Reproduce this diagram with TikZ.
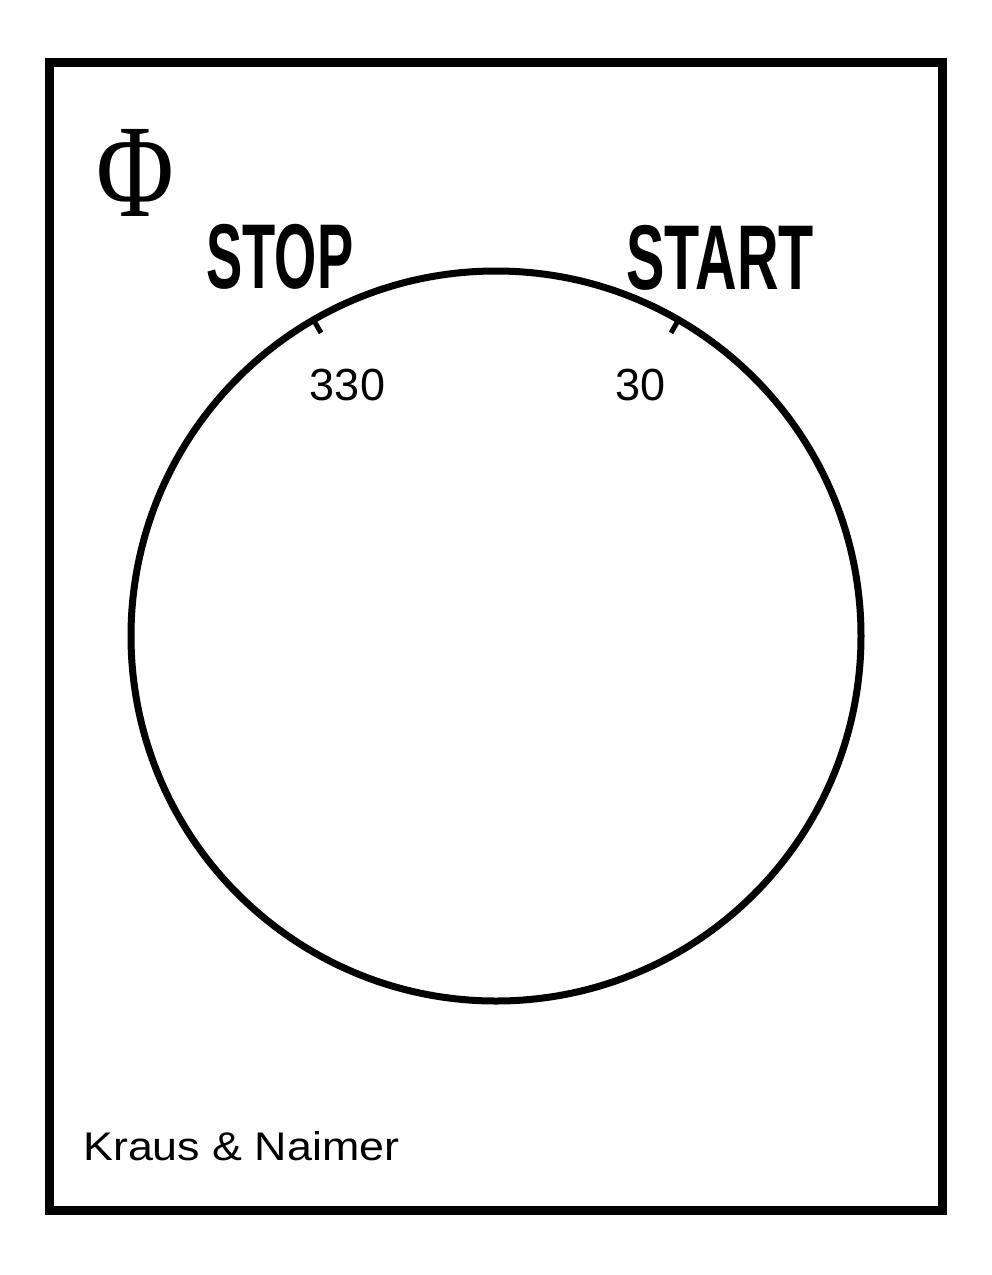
\documentclass[tikz,border=0pt]{standalone}
\usepackage{fontspec}
\setsansfont{Liberation Sans}
\newfontfamily\greekfont{Liberation Serif}
\usetikzlibrary{calc}

\begin{document}
\begin{tikzpicture}[x=1pt,y=-1pt,
    caption/.style={inner sep=0pt, anchor=base, xscale=0.59,
        font=\sffamily\bfseries\fontsize{92}{92}\selectfont},
    degree/.style={inner sep=0pt, anchor=base,
        font=\sffamily\fontsize{45}{45}\selectfont}]
    \useasboundingbox (0,0) rectangle (992,1275);

    % plate
    \draw[line width=9pt] (49.5,62.5) rectangle (942.5,1210.5);

    % dial
    \coordinate (c) at (496,636);
    \draw[line width=7pt] (c) circle (365pt);
    \draw[line width=5pt] ($(c)+(60:365pt)$) -- ($(c)+(60:350pt)$);
    \draw[line width=5pt] ($(c)+(120:365pt)$) -- ($(c)+(120:350pt)$);

    \node[inner sep=0pt, anchor=base, xscale=0.8,
        font=\greekfont\fontsize{133}{133}\selectfont] (phi) at (135.5,216) {Φ};

    \node[caption] (stop) at (280,288) {STOP};
    \node[caption, xscale=1.06] (start) at (720,289) {START};

    \node[degree] (deg330) at (347.5,400) {330};
    \node[degree] (deg30) at (641,400) {30};

    \node[inner sep=0pt, anchor=base west, xscale=1.12,
        font=\sffamily\fontsize{40}{40}\selectfont] (maker) at (83,1160) {Kraus \& Naimer};
\end{tikzpicture}
\end{document}
